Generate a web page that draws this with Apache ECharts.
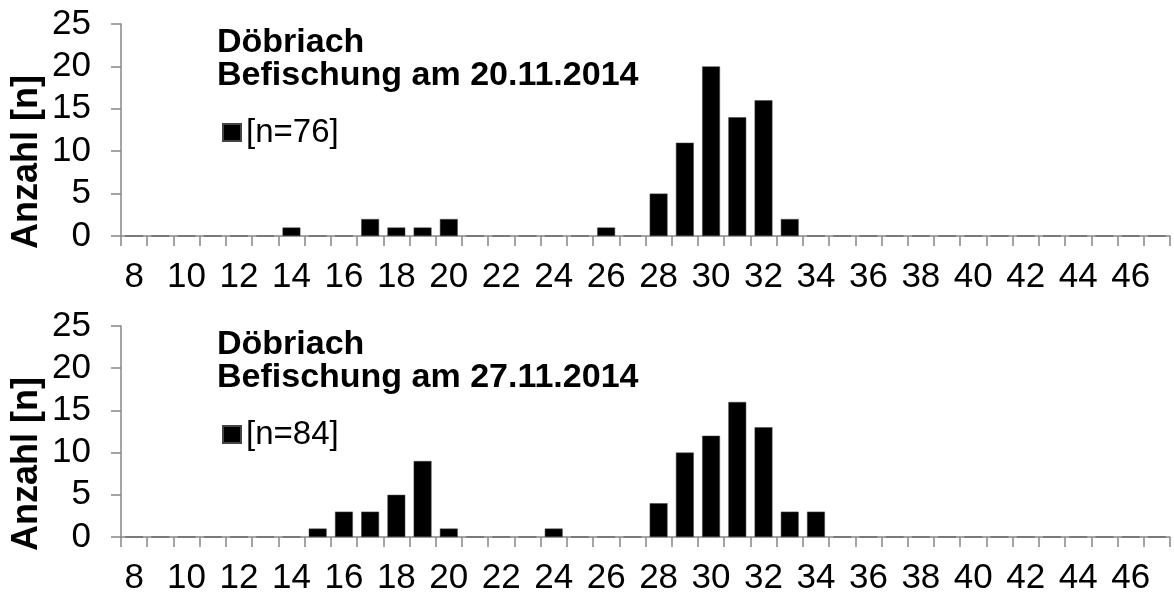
<!DOCTYPE html>
<html>
<head>
<meta charset="utf-8">
<script src="https://cdn.jsdelivr.net/npm/echarts@6/dist/echarts.min.js"></script>
<style>
  html, body { margin: 0; padding: 0; background: #fff; }
  #chart { width: 1174px; height: 596px; }
</style>
</head>
<body>
<div id="chart"></div>
<script>
// Länge [cm] Klassen
const lengths = ['8','9','10','11','12','13','14','15','16','17','18','19','20','21','22','23','24','25','26','27',
  '28','29','30','31','32','33','34','35','36','37','38','39','40','41','42','43','44','45','46','47'];

// Befischung am 20.11.2014
const counts1 = [0,0,0,0,0,0,1,0,0,2,1,1,2,0,0,0,0,0,1,0,
  5,11,20,14,16,2,0,0,0,0,0,0,0,0,0,0,0,0,0,0];
// Befischung am 27.11.2014
const counts2 = [0,0,0,0,0,0,0,1,3,3,5,9,1,0,0,0,1,0,0,0,
  4,10,12,16,13,3,3,0,0,0,0,0,0,0,0,0,0,0,0,0];

const titles = ['Döbriach\nBefischung am 20.11.2014', 'Döbriach\nBefischung am 27.11.2014'];
const legendNames = ['[n=76]', '[n=84]'];
const yTitle = 'Anzahl [n]';

const FONT = '"Liberation Sans", Arial, sans-serif';
const axisGray = '#868686';
const panelTop = [24, 326];
const plotH = 212;

const chart = echarts.init(document.getElementById('chart'));

const xAxisFor = (i) => ({
  type: 'category',
  gridIndex: i,
  data: lengths,
  axisLine: { lineStyle: { color: axisGray, width: 1.5 } },
  axisTick: { show: true, interval: 0, alignWithLabel: false, length: 10, lineStyle: { color: axisGray, width: 1.5 } },
  axisLabel: { interval: 1, color: '#000', fontSize: 35, fontFamily: FONT, margin: 24 },
  splitLine: { show: false }
});

const yAxisFor = (i) => ({
  type: 'value',
  gridIndex: i,
  min: 0,
  max: 25,
  interval: 5,
  axisLine: { show: true, lineStyle: { color: axisGray, width: 1.5 } },
  axisTick: { show: true, length: 10, lineStyle: { color: axisGray, width: 1.5 } },
  axisLabel: { color: '#000', fontSize: 35, fontFamily: FONT, margin: 30 },
  splitLine: { show: false }
});

const option = {
  animation: false,
  backgroundColor: '#fff',
  textStyle: { fontFamily: FONT },
  grid: panelTop.map((t) => ({ left: 121, right: 4, top: t, height: plotH })),
  xAxis: [xAxisFor(0), xAxisFor(1)],
  yAxis: [yAxisFor(0), yAxisFor(1)],
  title: titles.map((txt, i) => ({
    text: txt,
    left: 217,
    top: panelTop[i] + 2,
    padding: 0,
    textStyle: { fontSize: 34, fontWeight: 'bold', color: '#000', fontFamily: FONT, lineHeight: 33 }
  })),
  legend: legendNames.map((n, i) => ({
    data: [n],
    left: 222,
    top: panelTop[i] + 92,
    padding: 0,
    itemWidth: 18,
    itemHeight: 17,
    icon: 'rect',
    textStyle: { fontSize: 33, color: '#000', fontFamily: FONT },
    selectedMode: false
  })),
  graphic: panelTop.map((t) => ({
    type: 'text',
    x: 27,
    y: t + 138,
    rotation: Math.PI / 2,
    style: {
      text: yTitle,
      fontSize: 36,
      fontWeight: 'bold',
      fontFamily: FONT,
      fill: '#000',
      align: 'center',
      verticalAlign: 'middle'
    }
  })),
  series: [
    { name: legendNames[0], type: 'bar', xAxisIndex: 0, yAxisIndex: 0, data: counts1,
      barCategoryGap: '32%', itemStyle: { color: '#000', borderColor: '#444', borderWidth: 0.5 } },
    { name: legendNames[1], type: 'bar', xAxisIndex: 1, yAxisIndex: 1, data: counts2,
      barCategoryGap: '32%', itemStyle: { color: '#000', borderColor: '#444', borderWidth: 0.5 } }
  ]
};

chart.setOption(option);
</script>
</body>
</html>
